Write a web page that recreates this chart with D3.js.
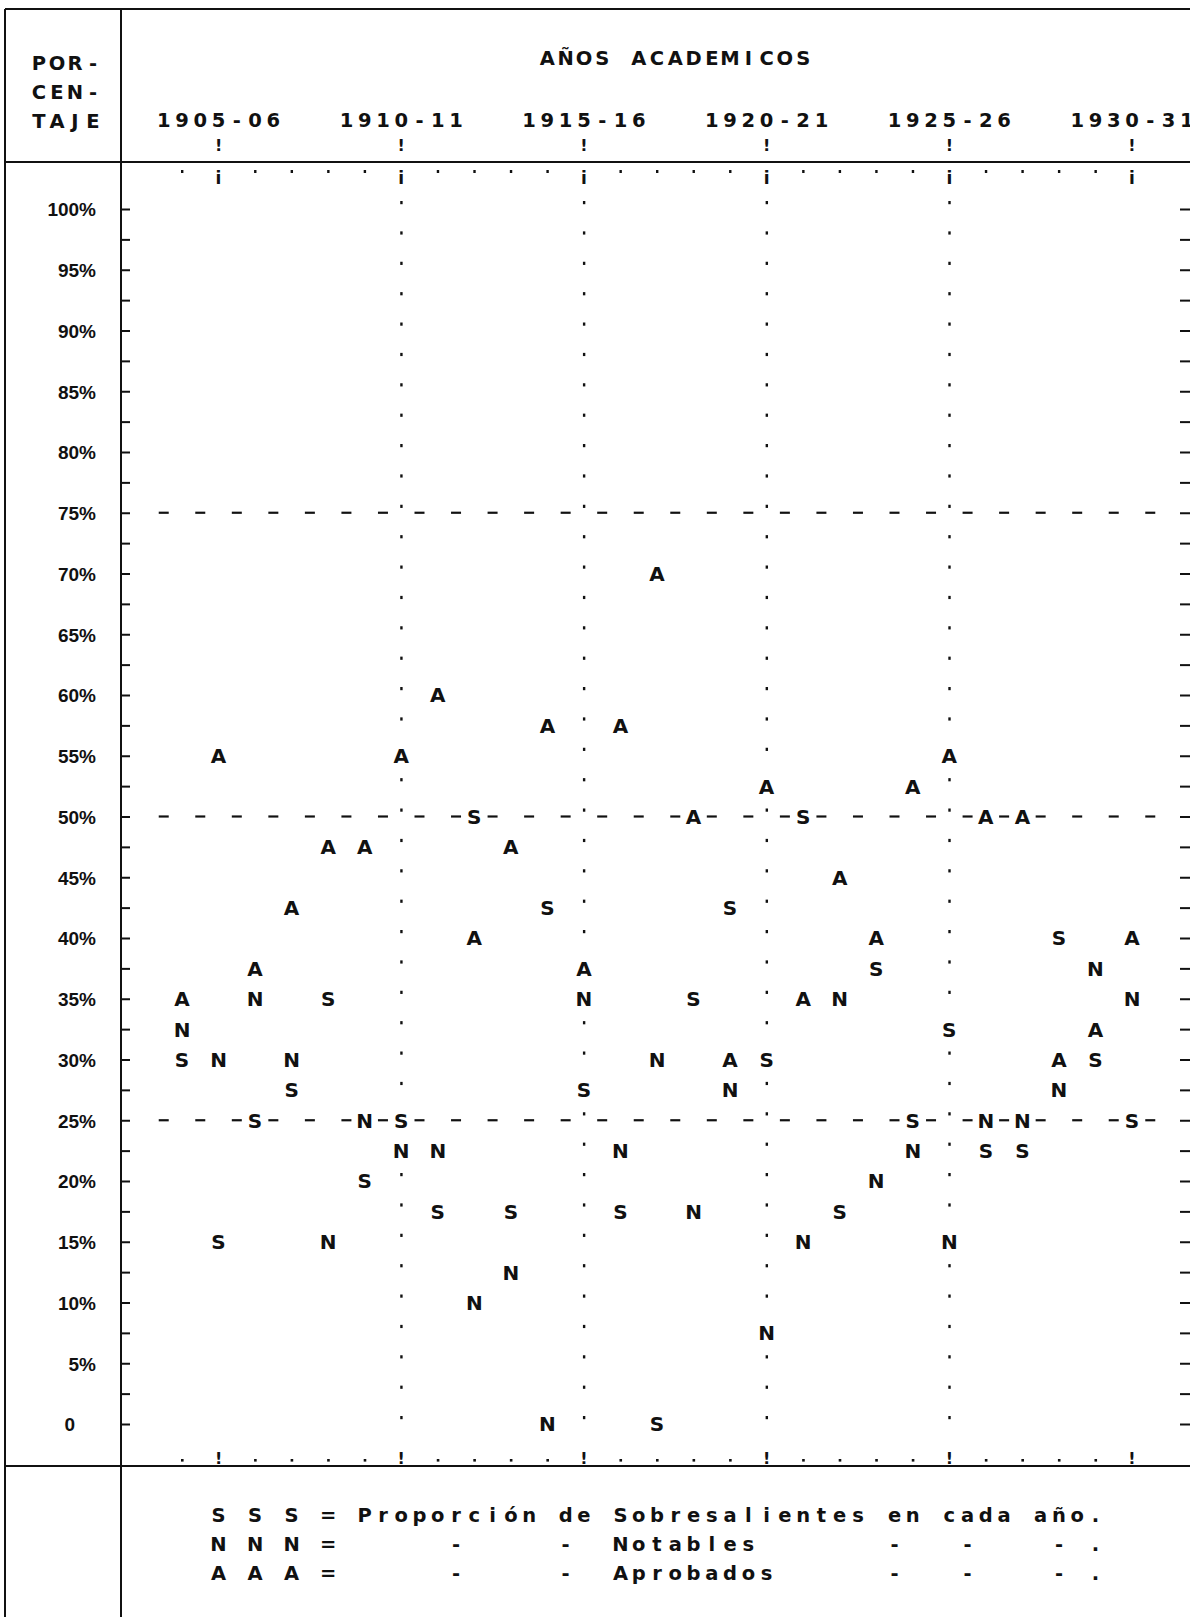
<!DOCTYPE html>
<html><head><meta charset="utf-8">
<script src="https://cdn.jsdelivr.net/npm/d3@7"></script>
<style>
html,body{margin:0;padding:0;background:#fff;}
svg{display:block;}
text{font-family:"DejaVu Sans","Liberation Sans",Arial,sans-serif;font-weight:bold;fill:#111;}
text.lab{font-family:"Liberation Sans",Arial,sans-serif;}
</style></head><body>
<svg id="chart" width="1190" height="1617"></svg>
<script>
// ---------- data ----------
const years = ["1904-05","1905-06","1906-07","1907-08","1908-09","1909-10","1910-11","1911-12","1912-13","1913-14","1914-15","1915-16","1916-17","1917-18","1918-19","1919-20","1920-21","1921-22","1922-23","1923-24","1924-25","1925-26","1926-27","1927-28","1928-29","1929-30","1930-31"];
const sobresalientes = [30,15,25,27.5,35,20,25,17.5,50,17.5,42.5,27.5,17.5,0,35,42.5,30,50,17.5,37.5,25,32.5,22.5,22.5,40,30,25];
const notables       = [32.5,30,35,30,15,25,22.5,22.5,10,12.5,0,35,22.5,30,17.5,27.5,7.5,15,35,20,22.5,15,25,25,27.5,37.5,35];
const aprobados      = [35,55,37.5,42.5,47.5,47.5,55,60,40,47.5,57.5,37.5,57.5,70,50,30,52.5,35,45,40,52.5,55,50,50,30,32.5,40];
const yearTickLabels = ["1905-06","1910-11","1915-16","1920-21","1925-26","1930-31"];
const percentTicks = [0,5,10,15,20,25,30,35,40,45,50,55,60,65,70,75,80,85,90,95,100];
const minorTicks = [0,2.5,5,7.5,10,12.5,15,17.5,20,22.5,25,27.5,30,32.5,35,37.5,40,42.5,45,47.5,50,52.5,55,57.5,60,62.5,65,67.5,70,72.5,75,77.5,80,82.5,85,87.5,90,92.5,95,97.5,100];
const refLines = [25,50,75];
const dottedYears = ["1910-11","1915-16","1920-21","1925-26"];
const headerLines = ["POR-","CEN-","TAJE"];
const titleText = "AÑOS ACADEMICOS";
const legendRows = [
  "S S S = Proporción de Sobresalientes en cada año.",
  "N N N =      -     -  Notables       -   -    - .",
  "A A A =      -     -  Aprobados      -   -    - ."
];
const series = [
  {key:"S", values:sobresalientes},
  {key:"N", values:notables},
  {key:"A", values:aprobados}
];

// ---------- layout ----------
const W = 1190, H = 1617;
const leftX = 5, innerX = 121, topY = 9, headY = 162, plotBottom = 1466;
const svg = d3.select("#chart");

const x = d3.scalePoint().domain(years).range([182, 1132]);
const step = x.step();
const cw = step / 2;            // typewriter character cell
const y = d3.scaleLinear().domain([0, 100]).range([1424, 209]);

function gridText(sel, str, x0, yy, cwid, size) {
  sel.append("g").selectAll("text").data(Array.from(str)).join("text")
    .attr("x", (d, i) => x0 + i * cwid).attr("y", yy)
    .attr("text-anchor", "middle").attr("font-size", size)
    .text(d => d === " " ? "" : d);
}

// ---------- frame ----------
const frame = svg.append("g").attr("stroke", "#111").attr("stroke-width", 2);
frame.append("line").attr("x1", leftX).attr("x2", W).attr("y1", topY).attr("y2", topY);
frame.append("line").attr("x1", leftX).attr("x2", leftX).attr("y1", topY).attr("y2", H);
frame.append("line").attr("x1", innerX).attr("x2", innerX).attr("y1", topY).attr("y2", H);
frame.append("line").attr("x1", leftX).attr("x2", W).attr("y1", headY).attr("y2", headY);
frame.append("line").attr("x1", leftX).attr("x2", W).attr("y1", plotBottom).attr("y2", plotBottom);

// ---------- header ----------
headerLines.forEach((s, i) => gridText(svg, s, 39, 70 + i * 29, 18, 19.5));
gridText(svg, titleText, x("1917-18") + cw - 7 * cw, 65, cw, 19.5);
yearTickLabels.forEach(lbl => {
  gridText(svg, lbl, x(lbl) - 3 * cw, 127, cw, 19.5);
  svg.append("text").attr("x", x(lbl)).attr("y", 151).attr("text-anchor", "middle")
    .attr("font-size", 16).text("!");
});

// top row of the plot: dots and "i"
const topRow = svg.append("g");
years.forEach(yr => {
  if (yearTickLabels.includes(yr)) {
    topRow.append("text").attr("x", x(yr)).attr("y", 184).attr("text-anchor", "middle")
      .attr("font-size", 17).text("i");
  } else {
    topRow.append("rect").attr("x", x(yr) - 1).attr("y", 170).attr("width", 2.4).attr("height", 3).attr("fill", "#111");
  }
});
// bottom row: dots and "!"
const botRow = svg.append("g");
years.forEach(yr => {
  if (yearTickLabels.includes(yr)) {
    botRow.append("text").attr("x", x(yr)).attr("y", 1464).attr("text-anchor", "middle")
      .attr("font-size", 16).text("!");
  } else {
    botRow.append("rect").attr("x", x(yr) - 1).attr("y", 1459).attr("width", 2.6).attr("height", 2.6).attr("fill", "#111");
  }
});

// ---------- axes ----------
const yLab = svg.append("g").attr("transform", `translate(96,0)`)
  .call(d3.axisLeft(y).tickValues(percentTicks).tickSize(0).tickPadding(0)
    .tickFormat(d => d === 0 ? "0" : d + "%"));
yLab.attr("font-size", null).attr("font-family", null);
yLab.select(".domain").remove();
yLab.selectAll("text").attr("class", "lab").attr("font-size", 19).attr("dy", "0.36em").style("fill", "#111");
yLab.selectAll(".tick").filter(d => d === 0).select("text").attr("x", -21);

const lTicks = svg.append("g").attr("transform", `translate(${innerX},0)`)
  .call(d3.axisRight(y).tickValues(minorTicks).tickSize(9).tickFormat(""));
lTicks.select(".domain").remove();
lTicks.selectAll("line").attr("stroke", "#111").attr("stroke-width", 2);

const rTicks = svg.append("g").attr("transform", `translate(${W},0)`)
  .call(d3.axisLeft(y).tickValues(minorTicks).tickSize(10).tickFormat(""));
rTicks.select(".domain").remove();
rTicks.selectAll("line").attr("stroke", "#111").attr("stroke-width", 2);

// ---------- dashed reference rows ----------
const mids = years.map(yr => x(yr) - step / 2).concat([x(years[years.length - 1]) + step / 2]);
const dashes = svg.append("g").attr("stroke", "#111").attr("stroke-width", 2.2);
refLines.forEach(p => {
  dashes.selectAll(null).data(mids).join("line")
    .attr("x1", d => d - 5).attr("x2", d => d + 5)
    .attr("y1", y(p)).attr("y2", y(p));
});

// ---------- dotted vertical columns ----------
const dots = svg.append("g").attr("fill", "#111");
dottedYears.forEach(yr => {
  const i = years.indexOf(yr);
  const occupied = series.map(s => s.values[i]);
  dots.selectAll(null).data(minorTicks.filter(p => !occupied.includes(p))).join("rect")
    .attr("x", x(yr) - 1).attr("y", d => y(d) - 8).attr("width", 2.4).attr("height", 3.2);
});

// ---------- data letters ----------
const marks = svg.append("g");
series.forEach(s => {
  marks.selectAll(null).data(s.values.map((v, i) => ({yr: years[i], v}))).join("text")
    .attr("x", d => x(d.yr)).attr("y", d => y(d.v)).attr("dy", "0.37em")
    .attr("text-anchor", "middle").attr("font-size", 20).text(s.key);
});

// ---------- legend ----------
legendRows.forEach((row, i) => gridText(svg, row, x("1905-06"), 1522 + i * 29, cw, 19.5));
</script>
</body></html>
